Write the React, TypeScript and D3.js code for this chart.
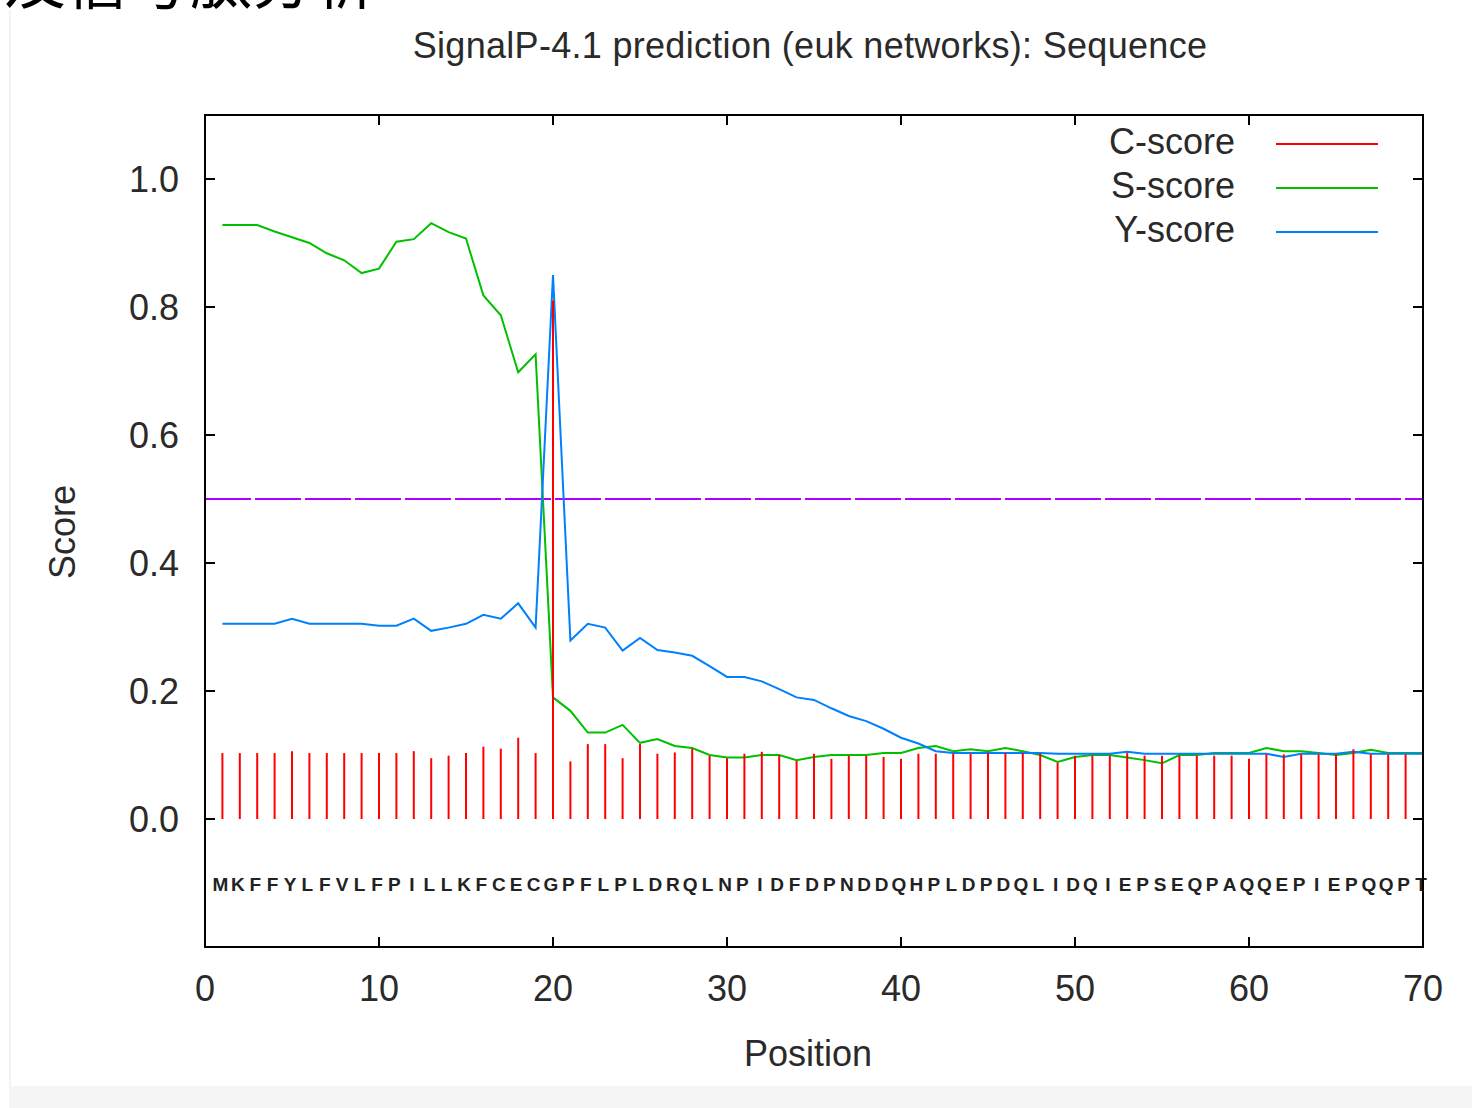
import React from "react";
import * as d3 from "d3";

const headingText = "及信号肽分析";
const titleText = "SignalP-4.1 prediction (euk networks): Sequence";
const sequence = "MKFFYLFVLFPILLKFCECGPFLPLDRQLNPIDFDPNDDQHPLDPDQLIDQIEPSEQPAQQEPIEPQQPT".split("");
const positions = sequence.map((_, i) => i + 1);

const cScore = [
  0.103, 0.103, 0.103, 0.103, 0.106, 0.103, 0.103, 0.103, 0.103, 0.103,
  0.103, 0.106, 0.095, 0.099, 0.103, 0.113, 0.11, 0.127, 0.103, 0.81,
  0.09, 0.117, 0.117, 0.095, 0.117, 0.102, 0.104, 0.11, 0.099, 0.095,
  0.102, 0.105, 0.1, 0.091, 0.102, 0.094, 0.099, 0.099, 0.097, 0.094,
  0.102, 0.102, 0.102, 0.102, 0.103, 0.103, 0.103, 0.102, 0.088, 0.099,
  0.099, 0.099, 0.103, 0.099, 0.099, 0.099, 0.099, 0.099, 0.099, 0.094,
  0.101, 0.101, 0.101, 0.101, 0.101, 0.109, 0.101, 0.101, 0.101, 0.101,
];
const sScore = [
  0.928, 0.928, 0.928, 0.918, 0.909, 0.9, 0.884, 0.873, 0.853, 0.86,
  0.902, 0.906, 0.931, 0.917, 0.907, 0.818, 0.787, 0.698, 0.726, 0.19,
  0.169, 0.135, 0.135, 0.147, 0.119, 0.125, 0.114, 0.111, 0.1, 0.096,
  0.096, 0.1, 0.1, 0.092, 0.097, 0.1, 0.1, 0.1, 0.103, 0.103,
  0.111, 0.114, 0.106, 0.109, 0.106, 0.111, 0.106, 0.1, 0.089, 0.097,
  0.1, 0.1, 0.096, 0.092, 0.087, 0.1, 0.1, 0.103, 0.103, 0.103,
  0.111, 0.106, 0.106, 0.103, 0.1, 0.103, 0.108, 0.103, 0.103, 0.103,
];
const yScore = [
  0.305, 0.305, 0.305, 0.305, 0.313, 0.305, 0.305, 0.305, 0.305, 0.302,
  0.302, 0.313, 0.294, 0.299, 0.305, 0.319, 0.313, 0.337, 0.299, 0.85,
  0.279, 0.305, 0.299, 0.263, 0.283, 0.264, 0.26, 0.255, 0.239, 0.222,
  0.222, 0.215, 0.203, 0.19, 0.186, 0.173, 0.161, 0.153, 0.141, 0.127,
  0.118, 0.106, 0.103, 0.103, 0.103, 0.103, 0.103, 0.103, 0.102, 0.102,
  0.102, 0.102, 0.105, 0.102, 0.102, 0.102, 0.102, 0.102, 0.102, 0.102,
  0.102, 0.097, 0.102, 0.102, 0.102, 0.105, 0.102, 0.102, 0.102, 0.102,
];
const threshold = 0.5;
const xTicks = [0, 10, 20, 30, 40, 50, 60, 70];
const yTicks = [0, 0.2, 0.4, 0.6, 0.8, 1.0];
const legendItems = [
  { label: "C-score", color: "#ff0000" },
  { label: "S-score", color: "#00c000" },
  { label: "Y-score", color: "#0080ff" },
];

export default function App() {
  const W = 1472, H = 1108;
  const left = 205, right = 1423, top = 115, bottom = 947;
  const x = d3.scaleLinear().domain([0, 70]).range([left, right]);
  const y = d3.scaleLinear().domain([-0.2, 1.1]).range([bottom, top]);
  const line = d3.line<number>().x((_, i) => x(positions[i])).y((d) => y(d));
  const font = "'Liberation Sans', Arial, sans-serif";
  const tickLen = 10;
  const textColor = "#2a2a2a";

  return (
    <svg width={W} height={H} style={{ position: "absolute", left: 0, top: 0, background: "#fff" }}>
      <rect x={0} y={0} width={W} height={H} fill="#fff" />
      <rect x={9} y={10} width={2} height={1076} fill="#f3f3f3" />
      <rect x={9} y={1086} width={W - 9} height={22} fill="#f5f5f5" />
      <text x={4} y={4} fontFamily="'Noto Sans CJK SC', sans-serif" fontSize={62} fill="#000">{headingText}</text>

      <text x={810} y={58} textAnchor="middle" fontFamily={font} fontSize={36} letterSpacing={0.3} fill={textColor}>{titleText}</text>

      {/* threshold */}
      <line x1={x(0)} x2={x(70)} y1={y(threshold)} y2={y(threshold)} stroke="#b000ff" strokeWidth={2} strokeDasharray="46,4" />

      {/* S and Y lines */}
      <path d={line(sScore) || ""} fill="none" stroke="#00c000" strokeWidth={2} />
      <path d={line(yScore) || ""} fill="none" stroke="#0080ff" strokeWidth={2} />

      {/* C impulses */}
      {cScore.map((v, i) => (
        <line key={i} x1={x(positions[i])} x2={x(positions[i])} y1={y(0)} y2={y(v)} stroke="#ff0000" strokeWidth={2} />
      ))}

      {/* sequence letters */}
      {sequence.map((s, i) => (
        <text key={i} x={x(positions[i]) - 2} y={891} textAnchor="middle" fontFamily={font} fontSize={19} fontWeight="bold" fill="#222">{s}</text>
      ))}

      {/* frame */}
      <rect x={left} y={top} width={right - left} height={bottom - top} fill="none" stroke="#000" strokeWidth={2} />

      {/* y ticks */}
      {yTicks.map((t) => (
        <g key={t}>
          <line x1={left} x2={left + tickLen} y1={y(t)} y2={y(t)} stroke="#000" strokeWidth={2} />
          <line x1={right} x2={right - tickLen} y1={y(t)} y2={y(t)} stroke="#000" strokeWidth={2} />
          <text x={179} y={y(t) + 13} textAnchor="end" fontFamily={font} fontSize={36} fill={textColor}>{d3.format(".1f")(t)}</text>
        </g>
      ))}
      {/* x ticks */}
      {xTicks.map((t) => (
        <g key={t}>
          <line x1={x(t)} x2={x(t)} y1={bottom} y2={bottom - tickLen} stroke="#000" strokeWidth={2} />
          <line x1={x(t)} x2={x(t)} y1={top} y2={top + tickLen} stroke="#000" strokeWidth={2} />
          <text x={x(t)} y={1001} textAnchor="middle" fontFamily={font} fontSize={36} fill={textColor}>{t}</text>
        </g>
      ))}

      <text x={808} y={1066} textAnchor="middle" fontFamily={font} fontSize={36} fill={textColor}>Position</text>
      <text transform={`translate(75,532) rotate(-90)`} textAnchor="middle" fontFamily={font} fontSize={36} fill={textColor}>Score</text>

      {/* legend */}
      {legendItems.map((d, i) => (
        <g key={d.label}>
          <text x={1235} y={154 + i * 44} textAnchor="end" fontFamily={font} fontSize={36} fill={textColor}>{d.label}</text>
          <line x1={1276} x2={1378} y1={144 + i * 44} y2={144 + i * 44} stroke={d.color} strokeWidth={2} />
        </g>
      ))}
    </svg>
  );
}
